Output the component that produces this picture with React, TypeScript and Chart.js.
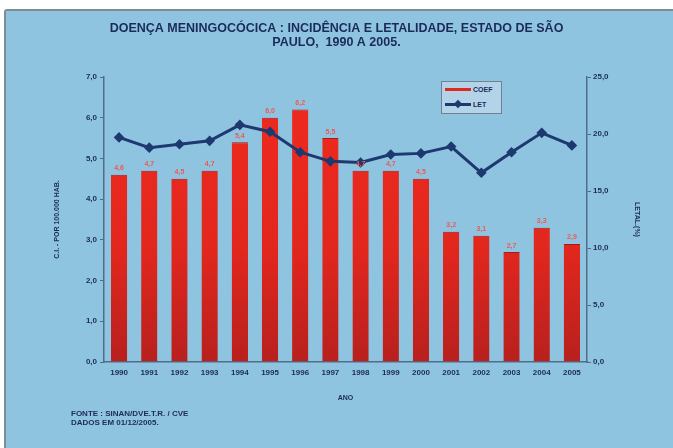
import React, { useEffect, useRef } from "react";
import { Chart, registerables } from "chart.js";

Chart.register(...registerables);

const years = ["1990","1991","1992","1993","1994","1995","1996","1997","1998","1999","2000","2001","2002","2003","2004","2005"];
const coefValues = [4.6, 4.7, 4.5, 4.7, 5.4, 6.0, 6.2, 5.5, 4.7, 4.7, 4.5, 3.2, 3.1, 2.7, 3.3, 2.9];
const letValues = [19.7, 18.8, 19.1, 19.4, 20.8, 20.2, 18.4, 17.6, 17.5, 18.2, 18.3, 18.9, 16.6, 18.4, 20.1, 19.0];
const titleLines = ["DOENÇA MENINGOCÓCICA : INCIDÊNCIA E LETALIDADE, ESTADO DE SÃO", "PAULO,  1990 A 2005."];
const leftAxisTitle = "C.I. - POR 100.000 HAB.";
const rightAxisTitle = "LETAL.(%)";
const xAxisTitle = "ANO";
const legendLabels = ["COEF", "LET"];
const footerLines = ["FONTE : SINAN/DVE.T.R. / CVE", "DADOS EM 01/12/2005."];

const FONT = "'Liberation Sans', Arial, sans-serif";
const NAVY = "#1b2b58";
const AXIS = "#4f6c88";
const BG = "#8fc4e1";

const fmt = (v: number) => v.toFixed(1).replace(".", ",");

const barLabelPlugin = {
  id: "barLabels",
  afterDatasetsDraw(chart: any) {
    const meta = chart.getDatasetMeta(0);
    const ctx = chart.ctx;
    ctx.save();
    ctx.font = `bold 7px ${FONT}`;
    ctx.fillStyle = "#ec5a54";
    ctx.textAlign = "center";
    ctx.textBaseline = "bottom";
    meta.data.forEach((el: any, i: number) => {
      ctx.fillText(fmt(coefValues[i]), el.x, el.y - 3);
    });
    ctx.restore();
  },
};

export default function App() {
  const ref = useRef<HTMLCanvasElement | null>(null);

  useEffect(() => {
    if (!ref.current) return;
    const chart = new Chart(ref.current, {
      type: "bar",
      data: {
        labels: years,
        datasets: [
          {
            type: "bar",
            label: legendLabels[0],
            data: coefValues,
            yAxisID: "y",
            backgroundColor: (c: any) => {
              const area = c.chart.chartArea;
              if (!area) return "#e2281e";
              const g = c.chart.ctx.createLinearGradient(0, area.top, 0, area.bottom);
              g.addColorStop(0, "#f02a1f");
              g.addColorStop(0.6, "#e2271d");
              g.addColorStop(1, "#b8201e");
              return g;
            },
            borderColor: "#a81a18",
            borderWidth: { top: 1, left: 0, right: 0, bottom: 0 },
            categoryPercentage: 1,
            barPercentage: 0.54,
            order: 2,
          },
          {
            type: "line",
            label: legendLabels[1],
            data: letValues,
            yAxisID: "y1",
            borderColor: "#1e3870",
            backgroundColor: "#1e3870",
            borderWidth: 3,
            pointStyle: "rectRot",
            pointRadius: 3.2,
            tension: 0,
            order: 1,
          },
        ],
      },
      options: {
        responsive: false,
        animation: false,
        layout: { padding: { left: 0, right: 0, top: 0, bottom: 42 } },
        plugins: {
          legend: { display: false },
          tooltip: { enabled: false },
          title: {
            display: true,
            text: titleLines,
            color: NAVY,
            font: { family: FONT, size: 12.5, weight: "bold", lineHeight: 1.08 },
            padding: { top: 22, bottom: 28 },
          },
        },
        scales: {
          x: {
            grid: { display: true, drawOnChartArea: false, drawTicks: false, color: AXIS },
            border: { color: AXIS, width: 1.5 },
            ticks: { color: NAVY, font: { family: FONT, size: 8, weight: "bold" }, padding: 6, maxRotation: 0, autoSkip: false },
            title: { display: true, text: xAxisTitle, color: NAVY, font: { family: FONT, size: 7, weight: "bold" }, padding: { top: 0, bottom: 4 } },
            afterFit: (s: any) => { s.height = 44; },
          },
          y: {
            position: "left",
            min: 0,
            max: 7,
            ticks: { stepSize: 1, color: NAVY, font: { family: FONT, size: 8, weight: "bold" }, padding: 3, callback: (v: any) => fmt(Number(v)) },
            grid: { drawOnChartArea: false, drawTicks: true, tickLength: 4, color: AXIS },
            border: { color: AXIS, width: 1.5 },
            title: { display: true, text: leftAxisTitle, color: NAVY, font: { family: FONT, size: 7, weight: "bold" }, padding: { top: 53, bottom: 0 } },
            afterFit: (s: any) => { s.width = 104; },
          },
          y1: {
            position: "right",
            min: 0,
            max: 25,
            ticks: { stepSize: 5, color: NAVY, font: { family: FONT, size: 8, weight: "bold" }, padding: 2, callback: (v: any) => fmt(Number(v)) },
            grid: { drawOnChartArea: false, drawTicks: true, tickLength: 4, color: AXIS },
            border: { color: AXIS, width: 1.5 },
            title: { display: true, text: rightAxisTitle, color: NAVY, font: { family: FONT, size: 7, weight: "bold" }, padding: { top: 32, bottom: 0 } },
            afterFit: (s: any) => { s.width = 86; },
          },
        },
      },
      plugins: [barLabelPlugin],
    } as any);
    return () => chart.destroy();
  }, []);

  const textStyle: React.CSSProperties = { fontFamily: FONT, fontWeight: "bold", color: NAVY, fontSize: 7, lineHeight: "9px", whiteSpace: "nowrap" };

  return (
    <div style={{ position: "absolute", left: 0, top: 0, width: 673, height: 448, background: "#ffffff", overflow: "hidden" }}>
      <div style={{ position: "absolute", left: 4, top: 9, width: 720, height: 500, border: "2px solid #7d8c97", borderRadius: 3, background: BG }} />
      <canvas ref={ref} width={673} height={448} style={{ position: "absolute", left: 0, top: 0, width: 673, height: 448 }} />
      <div style={{ position: "absolute", left: 441, top: 81, width: 61, height: 33, border: "1px solid #6f8193", background: "#b3d3e8", boxSizing: "border-box" }}>
        <div style={{ position: "absolute", left: 3, top: 6, width: 26, height: 3, background: "#e2281e" }} />
        <div style={{ ...textStyle, position: "absolute", left: 31, top: 3 }}>{legendLabels[0]}</div>
        <div style={{ position: "absolute", left: 3, top: 21, width: 26, height: 3, background: "#1e3870" }} />
        <div style={{ position: "absolute", left: 13, top: 19, width: 6, height: 6, background: "#1e3870", transform: "rotate(45deg)" }} />
        <div style={{ ...textStyle, position: "absolute", left: 31, top: 18 }}>{legendLabels[1]}</div>
      </div>
      <div style={{ ...textStyle, position: "absolute", left: 71, top: 409, fontSize: 8 }}>
        <div>{footerLines[0]}</div>
        <div>{footerLines[1]}</div>
      </div>
    </div>
  );
}
